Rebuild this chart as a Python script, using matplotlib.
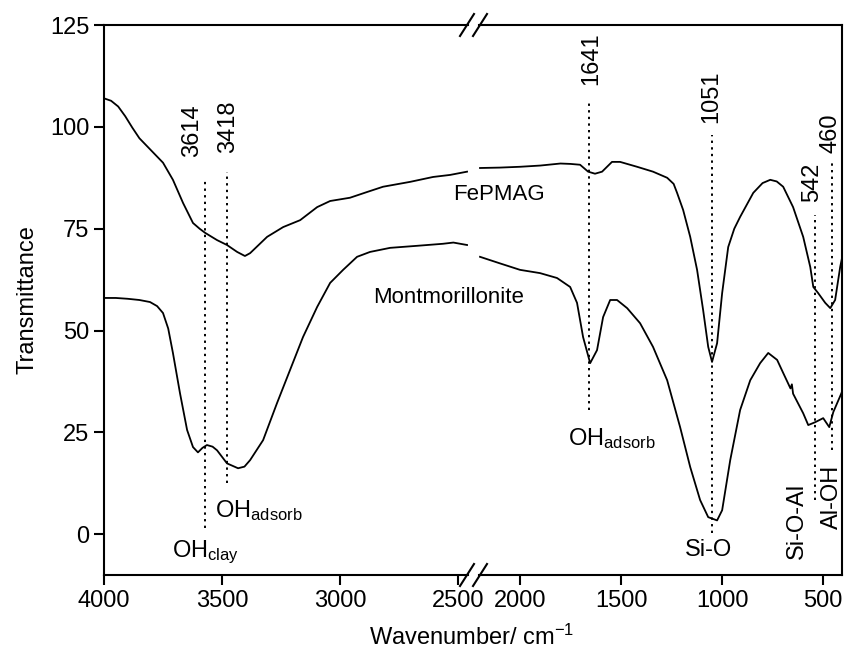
import numpy as np
import matplotlib
matplotlib.use("Agg")
import matplotlib.pyplot as plt
from matplotlib.lines import Line2D

plt.rcParams['font.family'] = ['Liberation Sans', 'DejaVu Sans']
plt.rcParams['mathtext.fontset'] = 'custom'
plt.rcParams['mathtext.rm'] = 'Liberation Sans'
plt.rcParams['mathtext.it'] = 'Liberation Sans'

# FePMAG, high wavenumber part (4000 - 2460)
fe_wn_hi = [4000, 3970, 3940, 3910, 3880, 3850, 3820, 3790, 3750, 3708, 3665, 3623,
            3595, 3572, 3521, 3479, 3436, 3403, 3381, 3345, 3309, 3241, 3169, 3097,
            3042, 2958, 2886, 2818, 2703, 2606, 2534, 2462]
fe_t_hi = [107.0, 106.4, 105.0, 102.6, 99.8, 97.2, 95.4, 93.6, 91.2, 87.0, 81.3, 76.4,
           75.0, 74.0, 72.2, 71.0, 69.3, 68.3, 69.0, 71.0, 73.0, 75.4, 77.1, 80.3,
           81.8, 82.6, 84.0, 85.3, 86.5, 87.7, 88.2, 89.0]
# FePMAG, low wavenumber part (2200 - 400)
fe_wn_lo = [2198, 2100, 2000, 1900, 1800, 1750, 1703, 1663, 1629, 1594, 1545, 1505,
            1421, 1342, 1272, 1240, 1223, 1193, 1158, 1124, 1094, 1069, 1050, 1025,
            1000, 970, 940, 911, 846, 800, 762, 730, 698, 649, 599, 564, 549, 525,
            490, 465, 441, 416, 400]
fe_t_lo = [89.9, 90.0, 90.2, 90.5, 91.0, 90.9, 90.7, 89.0, 88.5, 89.0, 91.4, 91.4,
           90.2, 89.0, 87.5, 86.0, 83.8, 79.6, 73.0, 64.9, 55.0, 46.0, 42.3, 46.9,
           59.2, 70.5, 75.0, 77.9, 83.8, 86.2, 87.0, 86.6, 85.3, 80.3, 73.0, 65.6,
           60.7, 59.2, 56.8, 55.5, 57.5, 65.6, 69.5]

# Montmorillonite
mt_wn_hi = [4000, 3950, 3900, 3850, 3805, 3775, 3750, 3728, 3708, 3678, 3648, 3623,
            3602, 3583, 3564, 3540, 3521, 3479, 3432, 3405, 3381, 3326, 3267, 3212,
            3157, 3097, 3042, 2987, 2928, 2873, 2788, 2674, 2564, 2520, 2462]
mt_t_hi = [58.0, 58.0, 57.8, 57.5, 57.0, 56.0, 54.3, 50.5, 44.5, 34.6, 25.6, 21.4,
           20.1, 21.2, 21.9, 21.5, 20.6, 17.4, 16.2, 16.6, 18.2, 23.1, 32.2, 40.3,
           48.4, 55.8, 61.7, 64.9, 68.1, 69.3, 70.3, 70.8, 71.3, 71.6, 71.0]
mt_wn_lo = [2198, 2100, 2000, 1901, 1817, 1752, 1718, 1688, 1653, 1619, 1589, 1554,
            1520, 1470, 1406, 1342, 1272, 1208, 1158, 1109, 1069, 1025, 1000, 960,
            911, 861, 812, 772, 728, 698, 662, 655, 649, 599, 574, 540, 500, 470,
            450, 410, 400]
mt_t_lo = [68.1, 66.5, 64.9, 64.1, 62.9, 60.7, 56.8, 48.4, 42.0, 45.2, 53.3, 57.5,
           57.5, 55.5, 51.8, 46.0, 37.8, 26.3, 16.5, 8.4, 4.2, 3.4, 5.9, 18.2,
           30.5, 37.8, 42.0, 44.5, 42.8, 39.6, 35.8, 36.8, 34.5, 29.7, 26.8, 27.5,
           28.5, 26.3, 30.0, 34.6, 36.0]

# peak marker lines: position, top, bottom
peak_hi = [(3572, 87.5, 1.5), (3477, 89.0, 12.5)]
peak_lo = [(1658, 106.6, 30.5), (1050, 98.0, 0.2), (540, 78.4, 8.4), (455, 91.4, 20.6)]

W, H = 844, 656
fig = plt.figure(figsize=(W / 100, H / 100), dpi=100)

def px(x0, x1, y0, y1):
    return [x0 / W, 1 - y1 / H, (x1 - x0) / W, (y1 - y0) / H]

ax1 = fig.add_axes(px(104, 468, 25, 575))
ax2 = fig.add_axes(px(479, 842, 25, 575))

for ax in (ax1, ax2):
    ax.set_ylim(-10, 125)
    ax.patch.set_visible(False)
    for s in ax.spines.values():
        s.set_linewidth(1.5)
    ax.tick_params(axis='both', direction='out', length=7, width=1.5, labelsize=17)

ax1.set_xlim(4000, 2458)
ax2.set_xlim(2203, 407)
ax1.spines['right'].set_visible(False)
ax2.spines['left'].set_visible(False)
ax2.tick_params(axis='y', left=False, labelleft=False)
ax1.set_xticks([4000, 3500, 3000, 2500])
ax2.set_xticks([2000, 1500, 1000, 500])
ax1.set_yticks([0, 25, 50, 75, 100, 125])

lw = 1.3
ax1.plot(fe_wn_hi, fe_t_hi, color='black', lw=lw)
ax1.plot(mt_wn_hi, mt_t_hi, color='black', lw=lw)
ax2.plot(fe_wn_lo, fe_t_lo, color='black', lw=lw)
ax2.plot(mt_wn_lo, mt_t_lo, color='black', lw=lw)

for x, top, bot in peak_hi:
    ax1.vlines(x, bot, top, colors='black', linestyles=(0, (1.2, 2.2)), lw=1.4)
for x, top, bot in peak_lo:
    ax2.vlines(x, bot, top, colors='black', linestyles=(0, (1.2, 2.2)), lw=1.4)

fs = 17
# rotated peak numbers
ax1.text(3625, 92.6, '3614', rotation=90, ha='center', va='bottom', fontsize=fs)
ax1.text(3475, 93.6, '3418', rotation=90, ha='center', va='bottom', fontsize=fs)
ax2.text(1649, 110.3, '1641', rotation=90, ha='center', va='bottom', fontsize=fs)
ax2.text(1054, 101.0, '1051', rotation=90, ha='center', va='bottom', fontsize=fs)
ax2.text(554, 81.6, '542', rotation=90, ha='center', va='bottom', fontsize=fs)
ax2.text(465, 93.6, '460', rotation=90, ha='center', va='bottom', fontsize=fs)

# band assignments
ax1.text(3712, -5.7, r'OH$_{\mathrm{clay}}$', ha='left', va='baseline', fontsize=fs)
ax1.text(3530, 4.2, r'OH$_{\mathrm{adsorb}}$', ha='left', va='baseline', fontsize=fs)
ax2.text(1762, 21.9, r'OH$_{\mathrm{adsorb}}$', ha='left', va='baseline', fontsize=fs)
ax2.text(1069, -3.9, 'Si-O', ha='center', va='center', fontsize=fs)
ax2.text(629, 12.5, 'Si-O-Al', rotation=90, ha='center', va='top', fontsize=fs)
ax2.text(455, 17.0, 'Al-OH', rotation=90, ha='center', va='top', fontsize=fs)

ax1.text(2521, 83.5, 'FePMAG', ha='left', va='center', fontsize=16, zorder=5)
ax1.text(2860, 58.2, 'Montmorillonite', ha='left', va='center', fontsize=16, zorder=5)

ax1.set_ylabel('Transmittance', fontsize=17, labelpad=8)
fig.text(472 / W, 1 - 637 / H, 'Wavenumber/ cm$^{-1}$', ha='center', va='center', fontsize=17)

# axis break marks
for yc in (25, 575):
    for xc in (467, 480):
        fig.add_artist(Line2D([(xc - 7) / W, (xc + 7) / W],
                              [1 - (yc + 11) / H, 1 - (yc - 11) / H],
                              color='black', lw=1.5, transform=fig.transFigure))

fig.savefig('out.png', dpi=100, facecolor='white')
